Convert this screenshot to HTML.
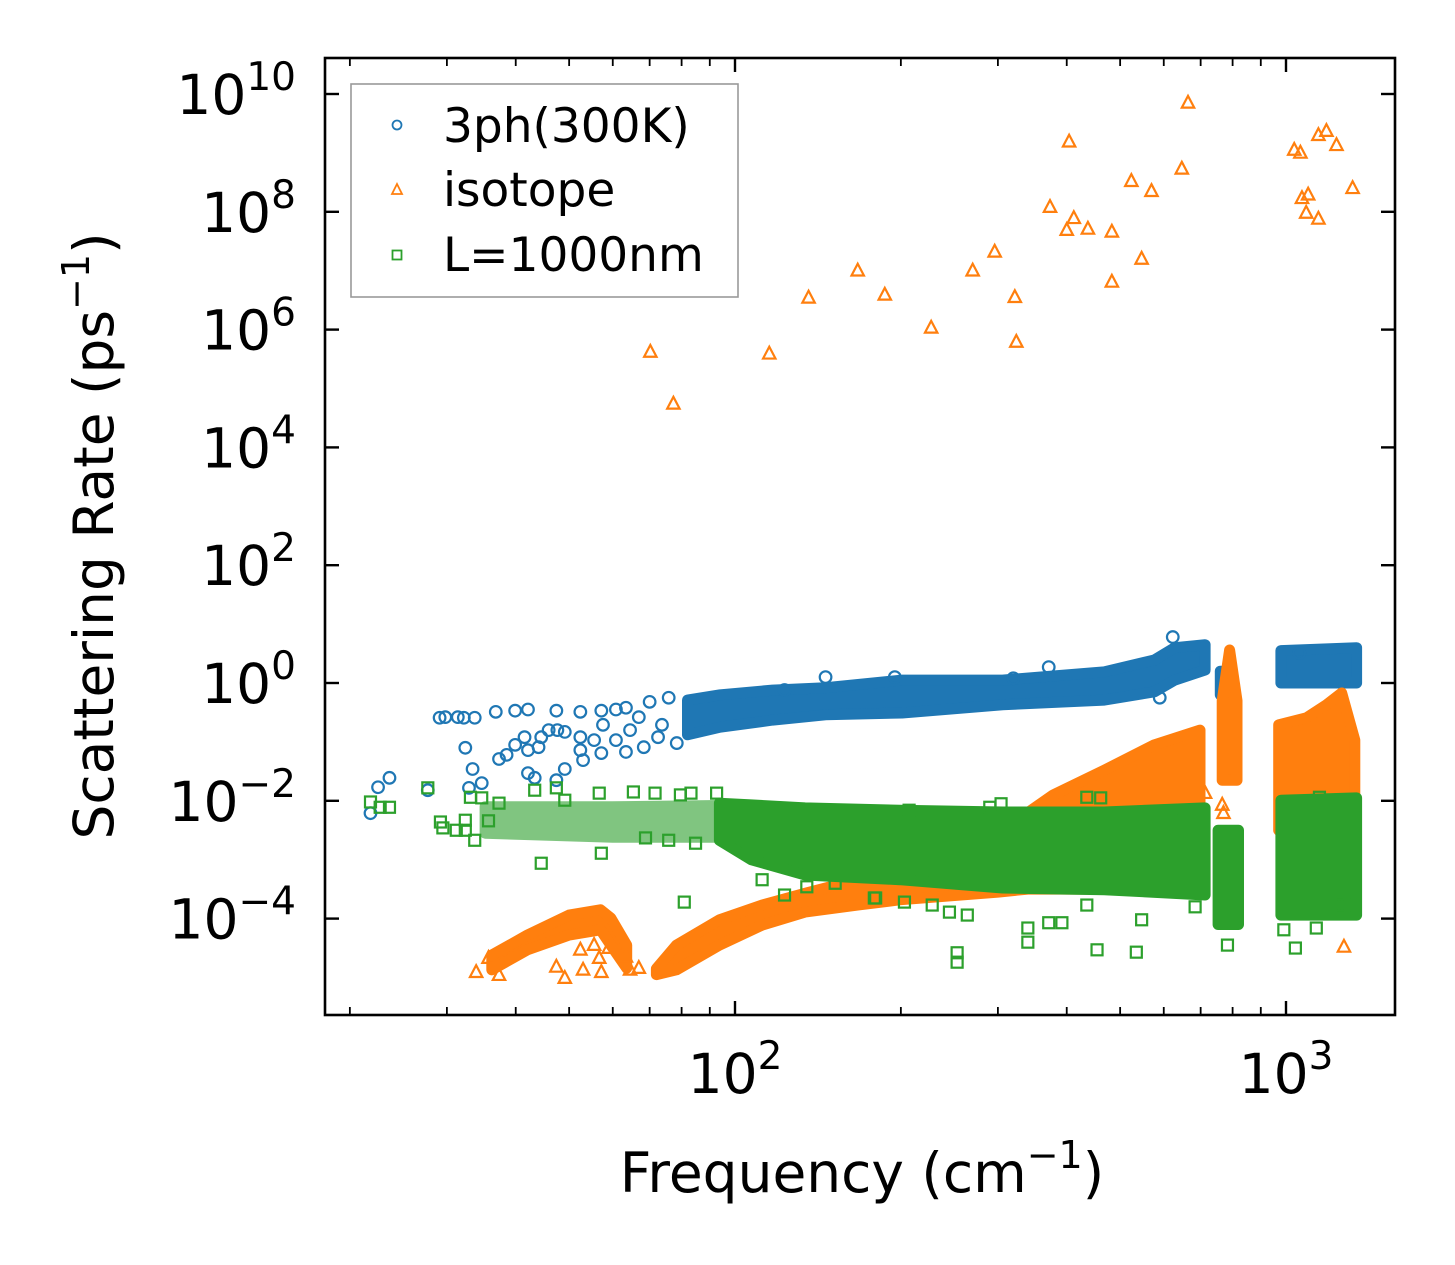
<!DOCTYPE html>
<html><head><meta charset="utf-8"><style>
html,body{margin:0;padding:0;background:#fff}
svg{display:block}
text{font-family:"DejaVu Sans","Liberation Sans",sans-serif;fill:#000}
</style></head><body>
<svg id="chart" width="1455" height="1265" viewBox="0 0 1455 1265" xmlns="http://www.w3.org/2000/svg">
<rect x="0" y="0" width="1455" height="1265" fill="#fff"/>
<g id="plot"></g>
<g id="axes"></g>
<text x="862" y="1192" font-size="55" text-anchor="middle">Frequency (cm<tspan font-size="38" dy="-24">−1</tspan><tspan dy="24">)</tspan></text>
<text transform="translate(113,536) rotate(-90)" font-size="55" text-anchor="middle">Scattering Rate (ps<tspan font-size="38" dy="-24">−1</tspan><tspan dy="24">)</tspan></text>
<g>
<rect x="351" y="84" width="387" height="213" fill="#fff" stroke="#999" stroke-width="1.6"/>
<circle cx="397" cy="125" r="4.5" fill="none" stroke="#1f77b4" stroke-width="1.8"/>
<text x="443" y="142" font-size="47">3ph(300K)</text>
<polygon points="397,184 402,194 392,194" fill="none" stroke="#ff7f0e" stroke-width="1.8"/>
<text x="443" y="206" font-size="47">isotope</text>
<rect x="392.5" y="250.5" width="9" height="9" fill="none" stroke="#2ca02c" stroke-width="1.8"/>
<text x="443" y="271" font-size="47">L=1000nm</text>
</g>
</svg>
<script>
// ---- data (frequency in cm^-1, log10 of scattering rate) ----
const blueBandSeg = [0,0,0,0,0,0,0,0,0,0, 1,1, 2,2];
const blueBandFreq = [82,94,117,146,201,306,468,577,628,713, 760,775, 979,1343];
const blueBandHi = [-0.29,-0.2,-0.12,-0.08,0.05,0.05,0.19,0.39,0.6,0.65, 0.2,0.2, 0.55,0.6];
const blueBandLo = [-0.88,-0.75,-0.63,-0.54,-0.51,-0.37,-0.29,-0.15,0.05,0.22, -0.2,-0.2, 0.0,0.0];
const blueFreq = [21.8,22.5,23.6,27.7,29.1,29.8,31.4,32.2,33.7,32.4,33.4,34.7,32.9,37.3,38.5,39.9,41.5,42.1,44.0,42.1,43.3,44.5,45.9,47.6,49.1,47.4,49.1,52.4,53.0,52.4,55.5,57.2,57.6,60.8,63.4,64.5,63.4,66.9,70.0,75.8,73.7,68.3,72.5,78.4,36.8,39.9,42.1,47.4,52.4,57.2,60.8,123,146,195,320,371,590,623,1057];
const blueVal = [-2.21,-1.77,-1.61,-1.82,-0.59,-0.58,-0.58,-0.59,-0.59,-1.10,-1.46,-1.70,-1.78,-1.29,-1.22,-1.05,-0.92,-1.14,-1.09,-1.53,-1.61,-0.92,-0.80,-0.80,-0.83,-1.65,-1.46,-1.14,-1.31,-0.92,-0.97,-1.19,-0.71,-0.97,-1.17,-0.80,-0.42,-0.58,-0.32,-0.25,-0.71,-1.09,-0.92,-1.02,-0.49,-0.47,-0.45,-0.47,-0.49,-0.47,-0.45,-0.12,0.10,0.10,0.08,0.27,-0.25,0.78,0.51];

const orangeBandSeg = [0,0,0,0,0,0, 1,1,1,1,1,1,1,1,1,1,1,1,1, 2,2,2, 3,3,3,3,3];
const orangeBandFreq = [36.2,42,50,57,59.5,63.6, 72,78.3,93.7,112,134,167,199,300,340,378,468,577,698, 766,790,815, 970,1089,1184,1262,1333];
const orangeBandHi = [-4.62,-4.28,-3.94,-3.85,-3.99,-4.45, -4.85,-4.45,-4.02,-3.77,-3.57,-3.34,-3.26,-3.0,-2.2,-1.9,-1.48,-1.05,-0.8, -0.3,0.56,-0.3, -0.71,-0.59,-0.37,-0.17,-0.97];
const orangeBandLo = [-4.87,-4.53,-4.28,-4.19,-4.45,-4.84, -4.95,-4.87,-4.45,-4.11,-3.89,-3.77,-3.68,-3.55,-3.5,-3.5,-3.5,-3.5,-3.5, -1.65,-1.65,-1.65, -2.5,-2.5,-2.5,-2.6,-2.8];
const orangeFreq = [70.2,77.3,115.4,136,167,187,227,270,296,322,324,373,404,400,412,437,483,483,524,547,570,647,664,1035,1062,1069,1088,1097,1145,1145,1184,1235,1321, 33.9,37.3,35.7,47.4,49.1,52.4,53.0,55.5,56.7,57.2,59.0,63.4,64.5,66.9,1274,766,770,713];
const orangeVal = [5.62,4.74,5.59,6.54,7.0,6.59,6.03,7.0,7.32,6.55,5.79,8.08,9.19,7.69,7.89,7.71,7.66,6.81,8.52,7.2,8.35,8.73,9.85,9.05,9.0,8.23,7.98,8.29,7.88,9.3,9.37,9.13,8.4, -4.91,-4.96,-4.67,-4.82,-5.01,-4.53,-4.87,-4.45,-4.67,-4.91,-4.5,-4.65,-4.87,-4.84,-4.48,-2.07,-2.21,-1.87];

const greenBandSeg = [0,0,0, 1,1,1,1,1,1,1, 2,2, 3,3];
const greenBandFreq = [35.2,60,93.7, 93.7,107,134,199,306,468,713, 753,820, 979,1343];
const greenBandHi = [-2.1,-2.1,-2.08, -2.04,-2.07,-2.12,-2.16,-2.19,-2.19,-2.12, -2.5,-2.5, -1.99,-1.95];
const greenBandLo = [-2.55,-2.62,-2.62, -2.67,-3.0,-3.26,-3.34,-3.48,-3.51,-3.6, -4.1,-4.1, -3.94,-3.94];
const greenFreq = [21.8,22.7,23.6,27.7,29.2,29.5,31.2,32.4,32.4,33.7,33.1,34.7,35.7,37.3,43.3,44.5,47.4,49.1,57.2,56.7,65.4,71.6,79.6,83.2,92.6,80.9,68.8,75.8,84.8,123,112,135,152,180,179,203,228,245,264,253,253,340,340,371,392,454,535,783,1040,991,1135,684,547,435,1235,1276,435,461,304,290,207,1150];
const greenVal = [-2.02,-2.11,-2.11,-1.78,-2.36,-2.46,-2.50,-2.50,-2.33,-2.67,-1.94,-1.95,-2.34,-2.04,-1.82,-3.06,-1.78,-1.99,-2.89,-1.87,-1.85,-1.87,-1.90,-1.87,-1.87,-3.72,-2.63,-2.67,-2.72,-3.6,-3.34,-3.46,-3.40,-3.65,-3.65,-3.72,-3.77,-3.89,-3.94,-4.58,-4.74,-4.16,-4.40,-4.07,-4.07,-4.53,-4.57,-4.45,-4.5,-4.19,-4.16,-3.80,-4.02,-3.77,-3.77,-3.77,-1.94,-1.95,-2.05,-2.11,-2.16,-1.94];

const yTickExp = [10,8,6,4,2,0,-2,-4];
const xTickExp = [2,3];
const xMinor = [20,30,40,50,60,70,80,90,200,300,400,500,600,700,800,900];

// ---- axes geometry ----
const L=325,R=1395,T=58,B=1015;
const sx = f => 735 + 551*(Math.log10(f)-2);
const sy = lv => 683 - 58.9*lv;
const NS="http://www.w3.org/2000/svg";
const plot=document.getElementById('plot'), axes=document.getElementById('axes');
function mk(tag,attrs,parent){const e=document.createElementNS(NS,tag);for(const k in attrs)e.setAttribute(k,attrs[k]);parent.appendChild(e);return e;}

const defs=mk('defs',{},plot);
const cp=mk('clipPath',{id:'clip'},defs);
mk('rect',{x:L,y:T,width:R-L,height:B-T},cp);
const g=mk('g',{'clip-path':'url(#clip)'},plot);

function drawBands(seg,fr,hi,lo,color,name,fadeSeg){
  const ids=[...new Set(seg)];
  ids.forEach(id=>{
    const idx=seg.map((s,i)=>s===id?i:-1).filter(i=>i>=0);
    const top=idx.map(i=>sx(fr[i]).toFixed(1)+','+sy(hi[i]).toFixed(1));
    const bot=idx.slice().reverse().map(i=>sx(fr[i]).toFixed(1)+','+sy(lo[i]).toFixed(1));
    const p=mk('polygon',{points:top.concat(bot).join(' '),fill:color,stroke:color,'stroke-width':11,'stroke-linejoin':'round','opacity':id===fadeSeg?0.6:1},g);
    
    
  });
}
function drawCircles(fr,v,color){
  fr.forEach((f,i)=>{
    const c=mk('circle',{cx:sx(f),cy:sy(v[i]),r:5.8,fill:'none',stroke:color,'stroke-width':2.2},g);
    
    
  });
}
function drawTris(fr,v,color){
  fr.forEach((f,i)=>{
    const x=sx(f),y=sy(v[i]);
    const c=mk('polygon',{points:`${x},${y-7} ${x+6.2},${y+4.8} ${x-6.2},${y+4.8}`,fill:'none',stroke:color,'stroke-width':2.2},g);
    
    
  });
}
function drawSquares(fr,v,color){
  fr.forEach((f,i)=>{
    const x=sx(f),y=sy(v[i]);
    const c=mk('rect',{x:x-5.5,y:y-5.5,width:11,height:11,fill:'none',stroke:color,'stroke-width':2.2},g);
    
    
  });
}
drawBands(blueBandSeg,blueBandFreq,blueBandHi,blueBandLo,'#1f77b4','3ph',-1);
drawCircles(blueFreq,blueVal,'#1f77b4');
drawBands(orangeBandSeg,orangeBandFreq,orangeBandHi,orangeBandLo,'#ff7f0e','isotope',-1);
drawTris(orangeFreq,orangeVal,'#ff7f0e');
drawBands(greenBandSeg,greenBandFreq,greenBandHi,greenBandLo,'#2ca02c','boundary',0);
drawSquares(greenFreq,greenVal,'#2ca02c');

const fr=mk('rect',{x:L,y:T,width:R-L,height:B-T,fill:'none',stroke:'#000','stroke-width':2.6},axes);



yTickExp.forEach(e=>{
  const y=sy(e);
  const t1=mk('line',{x1:L,x2:L+14,y1:y,y2:y,stroke:'#000','stroke-width':2.4},axes);
  
  
  const t2=mk('line',{x1:R,x2:R-14,y1:y,y2:y,stroke:'#000','stroke-width':2.4},axes);
  
  
  const tx=mk('text',{x:296,y:y+20,'font-size':55,'text-anchor':'end'},axes);
  
  
  const a=document.createElementNS(NS,'tspan');a.textContent='10';tx.appendChild(a);
  const b=document.createElementNS(NS,'tspan');b.setAttribute('font-size','39');b.setAttribute('dy','-24');b.textContent=(e<0?'−'+(-e):''+e);tx.appendChild(b);
});
xTickExp.forEach(e=>{
  const x=sx(Math.pow(10,e));
  const t1=mk('line',{x1:x,x2:x,y1:B,y2:B-14,stroke:'#000','stroke-width':2.4},axes);
  
  
  const t2=mk('line',{x1:x,x2:x,y1:T,y2:T+14,stroke:'#000','stroke-width':2.4},axes);
  
  
  const tx=mk('text',{x:x,y:1093,'font-size':55,'text-anchor':'middle'},axes);
  
  
  const a=document.createElementNS(NS,'tspan');a.textContent='10';tx.appendChild(a);
  const b=document.createElementNS(NS,'tspan');b.setAttribute('font-size','39');b.setAttribute('dy','-24');b.textContent=''+e;tx.appendChild(b);
});
xMinor.forEach(f=>{
  const x=sx(f);
  const t1=mk('line',{x1:x,x2:x,y1:B,y2:B-8,stroke:'#000','stroke-width':1.8},axes);
  
  
  const t2=mk('line',{x1:x,x2:x,y1:T,y2:T+8,stroke:'#000','stroke-width':1.8},axes);
  
  
});
</script>
</body></html>
